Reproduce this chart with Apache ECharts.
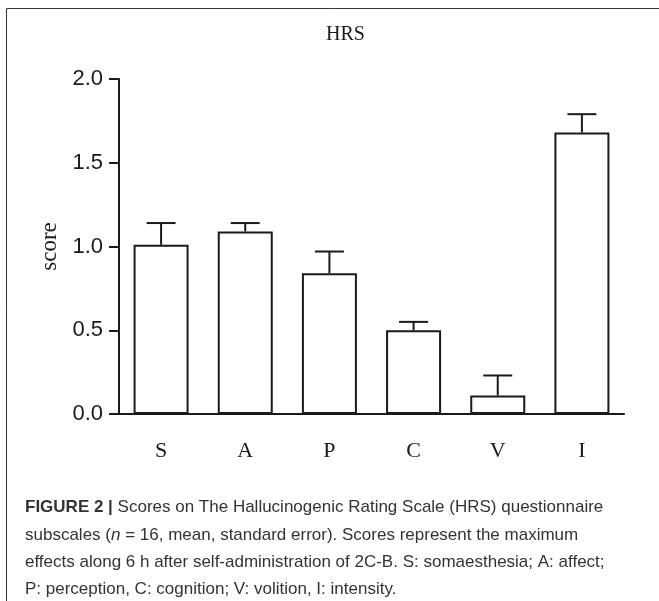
<!DOCTYPE html>
<html>
<head>
<meta charset="utf-8">
<script src="https://cdn.jsdelivr.net/npm/echarts@6/dist/echarts.min.js"></script>
<style>
html,body{margin:0;padding:0;background:#fff;}
#c{width:659px;height:601px;}
</style>
</head>
<body>
<div id="c"></div>
<script>
var categories = ['S', 'A', 'P', 'C', 'V', 'I'];
var means = [1.01, 1.09, 0.84, 0.50, 0.11, 1.68];
var errors = [0.13, 0.05, 0.13, 0.05, 0.12, 0.11];
var yTicks = [0, 0.5, 1.0, 1.5, 2.0];

var errData = means.map(function (m, i) { return [i, m, m + errors[i]]; });

var chart = echarts.init(document.getElementById('c'));
var ink = '#1a1a1a';
var captionLines = [
  '{b|FIGURE 2 |} Scores on The Hallucinogenic Rating Scale (HRS) questionnaire',
  'subscales ({i|n} = 16, mean, standard error). Scores represent the maximum',
  'effects along 6 h after self-administration of 2C-B. S: somaesthesia; A: affect;',
  'P: perception, C: cognition; V: volition, I: intensity.'
];
var capTop = [507, 535, 562, 589];
var capSize = 17;
var graphics = [{
  type: 'rect',
  shape: { x: 6.5, y: 8.5, width: 800, height: 800 },
  style: { fill: null, stroke: '#333', lineWidth: 1 },
  silent: true
}];
captionLines.forEach(function (t, k) {
  graphics.push({
    type: 'text',
    x: 25, y: capTop[k],
    style: {
      text: t,
      fontFamily: 'Liberation Sans, Arial, sans-serif',
      fontSize: capSize,
      fill: '#333',
      verticalAlign: 'middle',
      rich: {
        b: { fontWeight: 'bold', fontFamily: 'Liberation Sans, Arial, sans-serif', fontSize: capSize, fill: '#333' },
        i: { fontStyle: 'italic', fontFamily: 'Liberation Sans, Arial, sans-serif', fontSize: capSize, fill: '#333' }
      }
    }
  });
});

chart.setOption({
  animation: false,
  backgroundColor: '#fff',
  title: {
    text: 'HRS',
    left: 326, top: 25,
    padding: 0,
    textStyle: { fontFamily: 'Liberation Serif, Times New Roman, serif', fontSize: 20, fontWeight: 'normal', color: ink }
  },
  grid: { left: 119, right: 35, top: 79, bottom: 187, containLabel: false },
  xAxis: {
    type: 'category',
    data: categories,
    axisLine: { lineStyle: { color: ink, width: 2 } },
    axisTick: { show: false },
    axisLabel: { margin: 26, fontFamily: 'Liberation Serif, Times New Roman, serif', fontSize: 22, color: ink }
  },
  yAxis: {
    type: 'value',
    min: 0, max: 2, interval: 0.5,
    name: 'score',
    nameLocation: 'middle',
    nameGap: 58,
    nameRotate: 90,
    nameTextStyle: { fontFamily: 'Liberation Serif, Times New Roman, serif', fontSize: 23, color: ink },
    axisLine: { show: true, lineStyle: { color: ink, width: 2 } },
    axisTick: { show: true, length: 10, lineStyle: { color: ink, width: 2 } },
    splitLine: { show: false },
    axisLabel: {
      margin: 16,
      fontFamily: 'Liberation Sans, Arial, sans-serif', fontSize: 22, color: ink,
      formatter: function (v) { return v.toFixed(1); }
    }
  },
  series: [{
    type: 'bar',
    data: means,
    barWidth: 55,
    itemStyle: { color: '#fff', borderColor: ink, borderWidth: 2 },
    z: 2
  }, {
    type: 'custom',
    data: errData,
    z: 3,
    renderItem: function (params, api) {
      var lo = api.coord([api.value(0), api.value(1)]);
      var hi = api.coord([api.value(0), api.value(2)]);
      var hw = 14.5;
      return {
        type: 'group',
        children: [{
          type: 'line',
          shape: { x1: lo[0], y1: lo[1], x2: hi[0], y2: hi[1] },
          style: { stroke: ink, lineWidth: 2 }
        }, {
          type: 'line',
          shape: { x1: hi[0] - hw, y1: hi[1], x2: hi[0] + hw, y2: hi[1] },
          style: { stroke: ink, lineWidth: 2 }
        }]
      };
    }
  }],
  graphic: graphics
});
</script>
</body>
</html>
